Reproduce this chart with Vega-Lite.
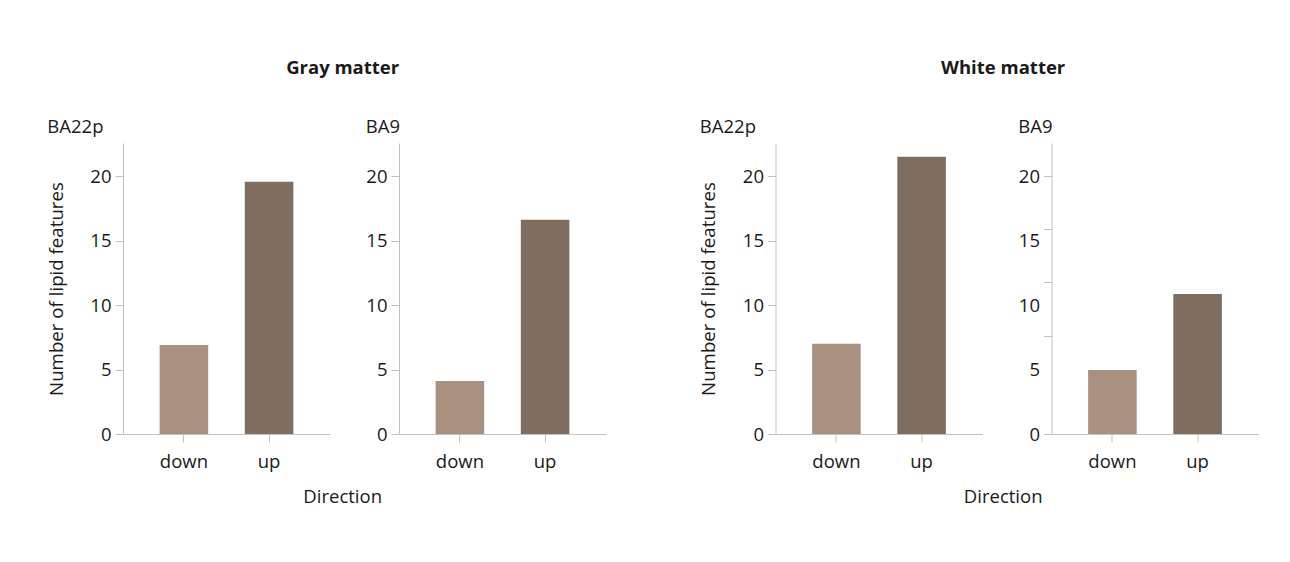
{
  "$schema": "https://vega.github.io/schema/vega-lite/v6.json",
  "background": "white",
  "padding": {"left": 47, "top": 59, "right": 10, "bottom": 10},
  "data": {"values": [
    {"matter": "Gray matter", "region": "BA22p", "direction": "down", "count": 6.92},
    {"matter": "Gray matter", "region": "BA22p", "direction": "up", "count": 19.59},
    {"matter": "Gray matter", "region": "BA9", "direction": "down", "count": 4.12},
    {"matter": "Gray matter", "region": "BA9", "direction": "up", "count": 16.63},
    {"matter": "White matter", "region": "BA22p", "direction": "down", "count": 7.0},
    {"matter": "White matter", "region": "BA22p", "direction": "up", "count": 21.53},
    {"matter": "White matter", "region": "BA9", "direction": "down", "count": 4.97},
    {"matter": "White matter", "region": "BA9", "direction": "up", "count": 10.88}
  ]},
  "config": {
    "font": "Open Sans",
    "view": {"stroke": null},
    "axis": {
      "labelFontSize": 18.5,
      "titleFontSize": 18.7,
      "labelColor": "#1a1a1a",
      "titleColor": "#1a1a1a",
      "titleFontWeight": "normal",
      "domainColor": "#c2c2c2",
      "tickColor": "#c2c2c2",
      "grid": false,
      "tickSize": 8,
      "labelPadding": 4
    },
    "title": {"fontSize": 18.5, "color": "#1a1a1a"}
  },
  "hconcat": [
    {
      "title": {"text": "Gray matter", "anchor": "middle", "fontWeight": "bold", "offset": 40, "dx": 16},
      "vconcat": [
        {
          "title": {"text": "Direction", "orient": "bottom", "anchor": "middle", "fontWeight": "normal", "offset": 17, "dx": 16},
          "spacing": 35,
          "hconcat": [
            {
              "title": {"text": "BA22p", "anchor": "start", "fontWeight": "normal", "offset": 7},
              "transform": [{"filter": "datum.matter == 'Gray matter' && datum.region == 'BA22p'"}],
              "width": 207, "height": 291,
              "mark": "bar",
              "encoding": {
                "x": {"field": "direction", "type": "nominal", "scale": {"domain": ["down", "up"], "paddingInner": 0.43, "paddingOuter": 0.43}, "axis": {"title": null, "labelAngle": 0, "labelPadding": 10}},
                "y": {"field": "count", "type": "quantitative", "scale": {"domain": [0, 22.6], "nice": false}, "axis": {"title": "Number of lipid features", "values": [0, 5, 10, 15, 20], "titlePadding": 23.5}},
                "color": {"field": "direction", "type": "nominal", "scale": {"domain": ["down", "up"], "range": ["#a9907f", "#7f6d5f"]}, "legend": null}
              }
            },
            {
              "title": {"text": "BA9", "anchor": "start", "fontWeight": "normal", "offset": 7},
              "transform": [{"filter": "datum.matter == 'Gray matter' && datum.region == 'BA9'"}],
              "width": 207, "height": 291,
              "mark": "bar",
              "encoding": {
                "x": {"field": "direction", "type": "nominal", "scale": {"domain": ["down", "up"], "paddingInner": 0.43, "paddingOuter": 0.43}, "axis": {"title": null, "labelAngle": 0, "labelPadding": 10}},
                "y": {"field": "count", "type": "quantitative", "scale": {"domain": [0, 22.6], "nice": false}, "axis": {"title": null, "values": [0, 5, 10, 15, 20]}},
                "color": {"field": "direction", "type": "nominal", "scale": {"domain": ["down", "up"], "range": ["#a9907f", "#7f6d5f"]}, "legend": null}
              }
            }
          ]
        }
      ]
    },
    {
      "title": {"text": "White matter", "anchor": "middle", "fontWeight": "bold", "offset": 40, "dx": 24},
      "vconcat": [
        {
          "title": {"text": "Direction", "orient": "bottom", "anchor": "middle", "fontWeight": "normal", "offset": 17, "dx": 24},
          "spacing": 35,
          "hconcat": [
            {
              "title": {"text": "BA22p", "anchor": "start", "fontWeight": "normal", "offset": 7},
              "transform": [{"filter": "datum.matter == 'White matter' && datum.region == 'BA22p'"}],
              "width": 207, "height": 291,
              "mark": "bar",
              "encoding": {
                "x": {"field": "direction", "type": "nominal", "scale": {"domain": ["down", "up"], "paddingInner": 0.43, "paddingOuter": 0.43}, "axis": {"title": null, "labelAngle": 0, "labelPadding": 10}},
                "y": {"field": "count", "type": "quantitative", "scale": {"domain": [0, 22.6], "nice": false}, "axis": {"title": "Number of lipid features", "values": [0, 5, 10, 15, 20], "titlePadding": 23.5}},
                "color": {"field": "direction", "type": "nominal", "scale": {"domain": ["down", "up"], "range": ["#a9907f", "#7f6d5f"]}, "legend": null}
              }
            },
            {
              "title": {"text": "BA9", "anchor": "start", "fontWeight": "normal", "offset": 7},
              "transform": [{"filter": "datum.matter == 'White matter' && datum.region == 'BA9'"}],
              "width": 207, "height": 291,
              "mark": "bar",
              "encoding": {
                "x": {"field": "direction", "type": "nominal", "scale": {"domain": ["down", "up"], "paddingInner": 0.43, "paddingOuter": 0.43}, "axis": {"title": null, "labelAngle": 0, "labelPadding": 10}},
                "y": {"field": "count", "type": "quantitative", "scale": {"domain": [0, 22.6], "nice": false}, "axis": {
                  "title": null,
                  "values": [0, 5, 7.6, 10, 11.8, 15, 15.9, 20],
                  "labelExpr": "datum.value % 5 == 0 ? datum.label : ''",
                  "labelOverlap": false,
                  "tickOpacity": {"condition": {"test": "datum.value == 5 || datum.value == 10 || datum.value == 15", "value": 0}, "value": 1}
                }},
                "color": {"field": "direction", "type": "nominal", "scale": {"domain": ["down", "up"], "range": ["#a9907f", "#7f6d5f"]}, "legend": null}
              }
            }
          ]
        }
      ]
    }
  ],
  "spacing": 93.5
}
